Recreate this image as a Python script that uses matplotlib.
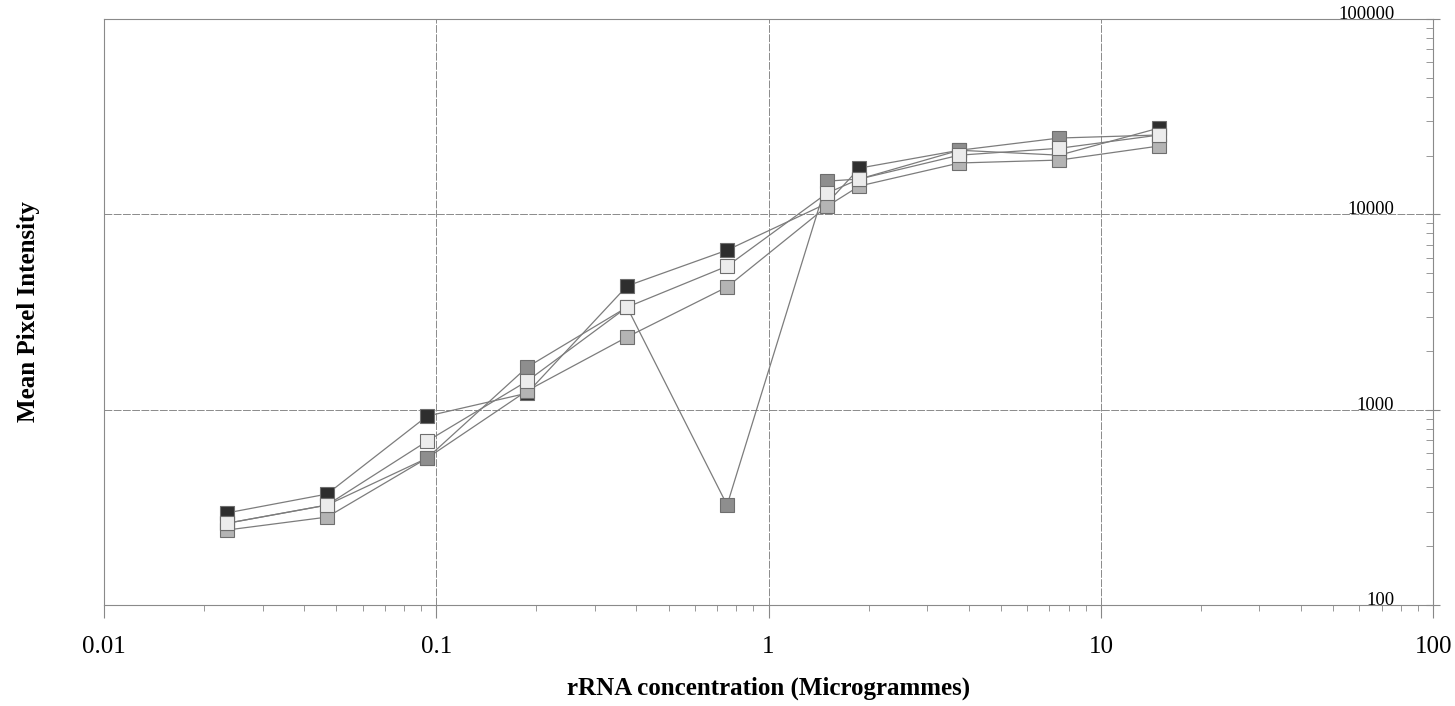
import numpy as np
import matplotlib.pyplot as plt

plt.rcParams['font.family'] = ['Liberation Serif', 'DejaVu Serif']

# rRNA concentration (micrograms)
conc = [0.0234, 0.0469, 0.0938, 0.1875, 0.375, 0.75, 1.5, 1.875, 3.75, 7.5, 15]

# mean pixel intensity, four replicate series
series_a = [296, 370, 927, 1215, 4300, 6560, 11400, 17250, 21300, 20100, 27700]
series_b = [262, 325, 690, 1400, 3350, 5430, 12850, 15170, 20100, 21800, 25500]
series_c = [242, 282, 565, 1250, 2355, 4250, 11000, 13970, 18330, 18970, 22400]
series_d = [262, 325, 565, 1650, 3350, 325, 14800, 15170, 21300, 24600, 25500]

x_ticks = [0.01, 0.1, 1, 10, 100]
x_ticklabels = ["0.01", "0.1", "1", "10", "100"]
y_ticks = [100, 1000, 10000, 100000]
y_ticklabels = ["100", "1000", "10000", "100000"]

fig = plt.figure(figsize=(14.55, 7.06), dpi=100)
ax = fig.add_axes([0.0715, 0.143, 0.9135, 0.830])

line_kw = dict(color="#7c7c7c", linewidth=0.9, marker="s", markersize=9.5,
               markeredgecolor="#6e6e6e", markeredgewidth=0.8)
ax.plot(conc, series_a, markerfacecolor="#2e2e2e", zorder=3, **line_kw)
ax.plot(conc, series_c, markerfacecolor="#b4b4b4", zorder=4, **line_kw)
ax.plot(conc, series_d, markerfacecolor="#8e8e8e", zorder=5, **line_kw)
ax.plot(conc, series_b, markerfacecolor="#ececec", zorder=6, **line_kw)

ax.set_xscale("log")
ax.set_yscale("log")
ax.set_xlim(0.01, 100)
ax.set_ylim(100, 100000)

ax.grid(True, which="major", color="#8a8a8a", linewidth=0.7, linestyle=(0, (8, 1.5)))

for s in ax.spines.values():
    s.set_color("#8a8a8a")
    s.set_linewidth(0.8)

ax.set_xticks(x_ticks)
ax.set_xticklabels(x_ticklabels, fontsize=18)
ax.tick_params(axis="x", which="major", length=9, color="#888888", pad=13)
ax.tick_params(axis="x", which="minor", length=4, color="#888888")

ax.yaxis.tick_right()
ax.set_yticks(y_ticks)
ax.set_yticklabels(y_ticklabels, fontsize=13.5)
ax.tick_params(axis="y", which="major", direction="inout", length=10, color="#888888", pad=-33)
ax.tick_params(axis="y", which="minor", direction="in", length=5, color="#888888")
for lab in ax.get_yticklabels():
    lab.set_horizontalalignment("right")
    lab.set_verticalalignment("baseline")

ax.set_xlabel("rRNA concentration (Microgrammes)", fontsize=18, fontweight="bold", labelpad=14)
ax.set_ylabel("Mean Pixel Intensity", fontsize=18, fontweight="bold", labelpad=46)
ax.yaxis.set_label_position("left")

fig.savefig("out.png", dpi=100)
